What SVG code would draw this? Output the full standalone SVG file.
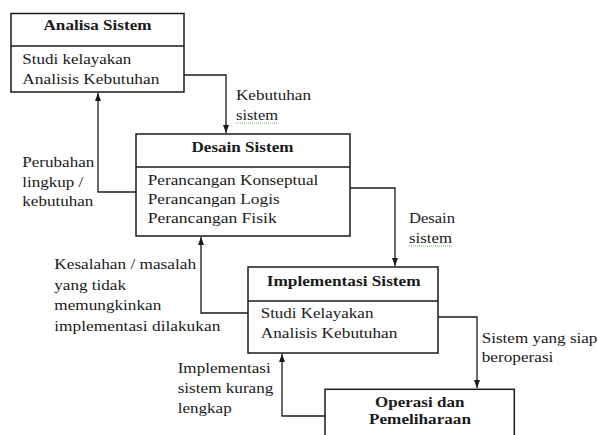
<svg xmlns="http://www.w3.org/2000/svg" width="598" height="435" viewBox="0 0 598 435">
<style>
.box{fill:#fff;stroke:#1a1a1a;stroke-width:1.5}
.div{stroke:#1a1a1a;stroke-width:1.3}
.con{fill:none;stroke:#1a1a1a;stroke-width:1.3}
text{font-size:15px;fill:#1a1a1a}
.t{font-weight:bold;text-anchor:middle}
.sq{fill:none;stroke:#3a9a3a;stroke-width:0.8;stroke-dasharray:1 1}
</style>
<defs>
<marker id="ah" viewBox="0 0 8 6" refX="8" refY="3" markerWidth="8" markerHeight="6" markerUnits="userSpaceOnUse" orient="auto">
<path d="M0,0 L8,3 L0,6 Z" fill="#1a1a1a"/>
</marker>
</defs>
<rect width="598" height="435" fill="#fff"/>
<g id="connectors">
<path class="con" d="M184,75 H226 V133" marker-end="url(#ah)"/>
<path class="con" d="M136,192 H98 V93" marker-end="url(#ah)"/>
<path class="con" d="M350,188 H395 V266" marker-end="url(#ah)"/>
<path class="con" d="M248,313 H201 V237" marker-end="url(#ah)"/>
<path class="con" d="M438,317 H477 V388" marker-end="url(#ah)"/>
<path class="con" d="M325,416 H282 V354" marker-end="url(#ah)"/>
</g>
<g font-family="'Liberation Serif', serif">
<g id="analisa">
<rect class="box" x="11" y="13.5" width="173" height="78.5"/>
<line class="div" x1="11" y1="46" x2="184" y2="46"/>
<text class="t" x="97.5" y="30" textLength="108" lengthAdjust="spacingAndGlyphs">Analisa Sistem</text>
<text x="22.3" y="64" textLength="109" lengthAdjust="spacingAndGlyphs">Studi kelayakan</text>
<text x="22.3" y="84" textLength="137" lengthAdjust="spacingAndGlyphs">Analisis Kebutuhan</text>
</g>
<g id="desain">
<rect class="box" x="136" y="134" width="214" height="102"/>
<line class="div" x1="136" y1="167" x2="350" y2="167"/>
<text class="t" x="242.5" y="152" textLength="102" lengthAdjust="spacingAndGlyphs">Desain Sistem</text>
<text x="147.7" y="185" textLength="170.7" lengthAdjust="spacingAndGlyphs">Perancangan Konseptual</text>
<text x="147.7" y="204" textLength="132" lengthAdjust="spacingAndGlyphs">Perancangan Logis</text>
<text x="147.7" y="223" textLength="129" lengthAdjust="spacingAndGlyphs">Perancangan Fisik</text>
</g>
<g id="implementasi">
<rect class="box" x="248" y="267" width="190" height="86"/>
<line class="div" x1="248" y1="301" x2="438" y2="301"/>
<text class="t" x="343.7" y="286" textLength="154" lengthAdjust="spacingAndGlyphs">Implementasi Sistem</text>
<text x="260.7" y="318" textLength="112.7" lengthAdjust="spacingAndGlyphs">Studi Kelayakan</text>
<text x="260.7" y="338" textLength="136.7" lengthAdjust="spacingAndGlyphs">Analisis Kebutuhan</text>
</g>
<g id="operasi">
<rect class="box" x="325" y="389.3" width="189.3" height="60"/>
<text class="t" x="419.7" y="407" textLength="89.3" lengthAdjust="spacingAndGlyphs">Operasi dan</text>
<text class="t" x="420" y="424" textLength="102" lengthAdjust="spacingAndGlyphs">Pemeliharaan</text>
</g>
<g id="labels">
<text x="236" y="100" textLength="75" lengthAdjust="spacingAndGlyphs">Kebutuhan</text>
<text x="236" y="120" textLength="42" lengthAdjust="spacingAndGlyphs">sistem</text>
<path class="sq" d="M236,123 H278"/>
<text x="22.3" y="167" textLength="72" lengthAdjust="spacingAndGlyphs">Perubahan</text>
<text x="22.3" y="187" textLength="61" lengthAdjust="spacingAndGlyphs">lingkup /</text>
<text x="22.3" y="206" textLength="71" lengthAdjust="spacingAndGlyphs">kebutuhan</text>
<text x="409" y="223" textLength="46" lengthAdjust="spacingAndGlyphs">Desain</text>
<text x="409" y="243" textLength="43" lengthAdjust="spacingAndGlyphs">sistem</text>
<path class="sq" d="M409,246 H452"/>
<text x="54.3" y="269" textLength="141.7" lengthAdjust="spacingAndGlyphs">Kesalahan / masalah</text>
<text x="54.3" y="290" textLength="71.7" lengthAdjust="spacingAndGlyphs">yang tidak</text>
<text x="54.3" y="310" textLength="107" lengthAdjust="spacingAndGlyphs">memungkinkan</text>
<text x="54.3" y="331" textLength="166" lengthAdjust="spacingAndGlyphs">implementasi dilakukan</text>
<text x="481.7" y="343" textLength="115.7" lengthAdjust="spacingAndGlyphs">Sistem yang siap</text>
<text x="481.7" y="362" textLength="71.7" lengthAdjust="spacingAndGlyphs">beroperasi</text>
<text x="177.7" y="373" textLength="93" lengthAdjust="spacingAndGlyphs">Implementasi</text>
<text x="177.7" y="393" textLength="95.7" lengthAdjust="spacingAndGlyphs">sistem kurang</text>
<text x="177.7" y="413" textLength="54" lengthAdjust="spacingAndGlyphs">lengkap</text>
</g>
</g>
</svg>
